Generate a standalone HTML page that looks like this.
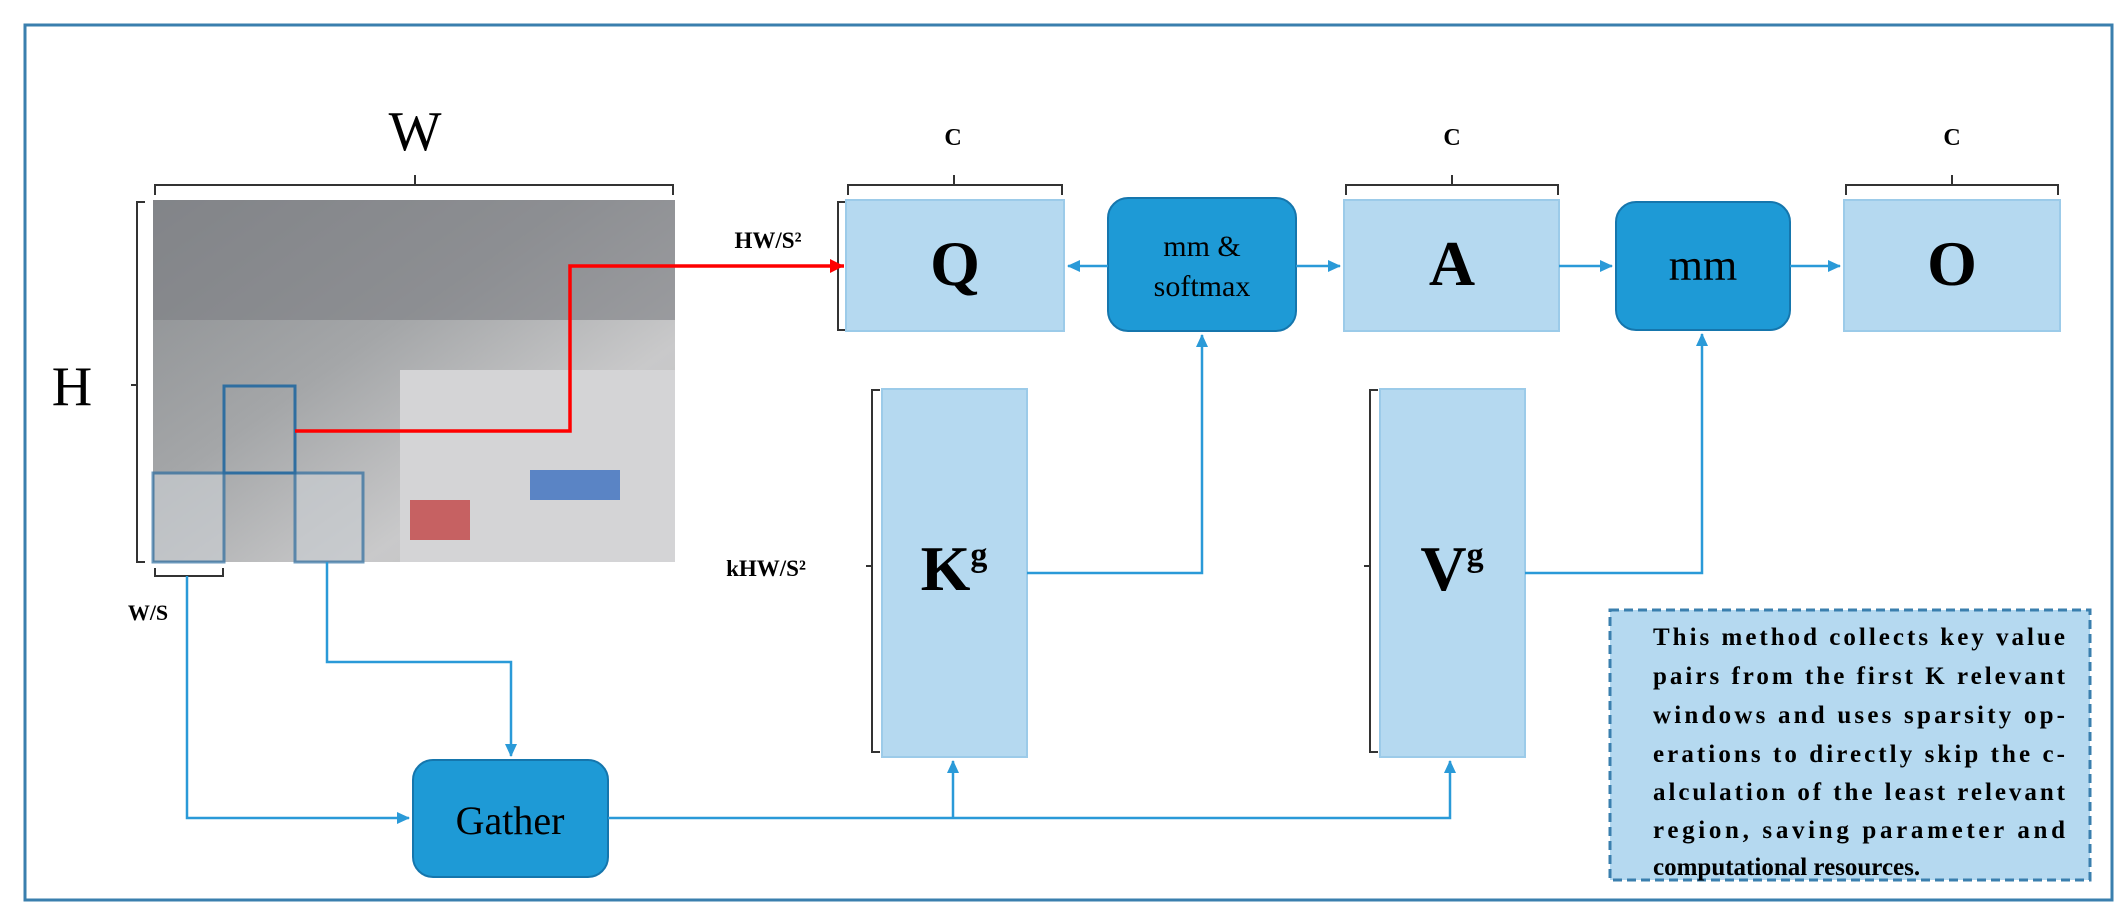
<!DOCTYPE html>
<html><head><meta charset="utf-8"><style>
body{margin:0;background:#fff;}
svg text{font-family:"Liberation Serif",serif;}
</style></head><body>
<svg width="2128" height="917" viewBox="0 0 2128 917" xmlns="http://www.w3.org/2000/svg">
<defs>
<marker id="ab" markerWidth="14" markerHeight="14" refX="12" refY="7" orient="auto" markerUnits="userSpaceOnUse"><path d="M0,1 L13,7 L0,13 z" fill="#2a9ad8"/></marker>
<marker id="ar" markerWidth="16" markerHeight="16" refX="14" refY="7" orient="auto" markerUnits="userSpaceOnUse"><path d="M0,0 L14,7 L0,14 z" fill="#f00"/></marker>
<linearGradient id="ph" x1="0" y1="0" x2="1" y2="1">
<stop offset="0" stop-color="#8a8d90"/><stop offset="0.4" stop-color="#a4a6a8"/><stop offset="0.7" stop-color="#c9c9ca"/><stop offset="1" stop-color="#b8b9bb"/></linearGradient>
</defs>
<rect x="25" y="25" width="2087" height="875" fill="none" stroke="#3a7fae" stroke-width="3"/>
<!-- photo -->
<rect x="153" y="200" width="522" height="362" fill="url(#ph)"/>
<rect x="153" y="200" width="522" height="120" fill="#7d7f84" opacity="0.6"/>
<rect x="400" y="370" width="275" height="192" fill="#d4d4d6"/>
<rect x="410" y="500" width="60" height="40" fill="#c03030" opacity="0.7"/>
<rect x="530" y="470" width="90" height="30" fill="#3b6fc0" opacity="0.8"/>
<rect x="224" y="386" width="71" height="87" fill="none" stroke="#2f6ea0" stroke-width="3"/>
<rect x="153" y="473" width="71" height="89" fill="#c8ccd0" opacity="0.7" stroke="#2f6ea0" stroke-width="3"/>
<rect x="295" y="473" width="68" height="89" fill="#c8ccd0" opacity="0.7" stroke="#2f6ea0" stroke-width="3"/>
<!-- braces -->
<g fill="none" stroke="#333" stroke-width="2">
<path d="M155,195 v-10 h260 v-10 v10 h258 v10"/>
<path d="M145,202 h-8 v183 h-6 h6 v177 h8"/>
<path d="M155,568 v8 h68 v-8"/>
<path d="M848,195 v-10 h106 v-10 v10 h108 v10"/>
<path d="M1346,195 v-10 h106 v-10 v10 h106 v10"/>
<path d="M1846,195 v-10 h106 v-10 v10 h106 v10"/>
<path d="M846,202 h-8 v128 h8"/>
<path d="M880,390 h-8 v176 h-6 h6 v186 h8"/>
<path d="M1378,390 h-8 v176 h-6 h6 v186 h8"/>
</g>
<text x="415" y="150" font-size="56" text-anchor="middle">W</text>
<text x="72" y="405" font-size="56" text-anchor="middle">H</text>
<text x="148" y="620" font-size="22" font-weight="bold" text-anchor="middle">W/S</text>
<text x="953" y="145" font-size="24" font-weight="bold" text-anchor="middle">C</text>
<text x="1452" y="145" font-size="24" font-weight="bold" text-anchor="middle">C</text>
<text x="1952" y="145" font-size="24" font-weight="bold" text-anchor="middle">C</text>
<text x="768" y="248" font-size="23" font-weight="bold" text-anchor="middle">HW/S²</text>
<text x="766" y="576" font-size="23" font-weight="bold" text-anchor="middle">kHW/S²</text>
<!-- boxes -->
<g fill="#b5d9f0" stroke="#9ccbe9" stroke-width="2">
<rect x="846" y="200" width="218" height="131"/>
<rect x="1344" y="200" width="215" height="131"/>
<rect x="1844" y="200" width="216" height="131"/>
<rect x="882" y="389" width="145" height="368"/>
<rect x="1380" y="389" width="145" height="368"/>
</g>
<g fill="#1e9ad6" stroke="#1576ad" stroke-width="2">
<rect x="1108" y="198" width="188" height="133" rx="20"/>
<rect x="1616" y="202" width="174" height="128" rx="20"/>
<rect x="413" y="760" width="195" height="117" rx="20"/>
</g>
<text x="955" y="285" font-size="64" font-weight="bold" text-anchor="middle">Q</text>
<text x="1452" y="285" font-size="64" font-weight="bold" text-anchor="middle">A</text>
<text x="1952" y="285" font-size="64" font-weight="bold" text-anchor="middle">O</text>
<text x="954" y="590" font-size="64" font-weight="bold" text-anchor="middle">K<tspan font-size="34" dy="-24">g</tspan></text>
<text x="1452" y="590" font-size="64" font-weight="bold" text-anchor="middle">V<tspan font-size="34" dy="-24">g</tspan></text>
<text x="1202" y="256" font-size="30" text-anchor="middle">mm &amp;</text>
<text x="1202" y="296" font-size="30" text-anchor="middle">softmax</text>
<text x="1703" y="280" font-size="44" text-anchor="middle">mm</text>
<text x="510" y="834" font-size="40" text-anchor="middle">Gather</text>
<!-- connectors -->
<g fill="none" stroke="#2a9ad8" stroke-width="2.5">
<path d="M1108,266 H1068" marker-end="url(#ab)"/>
<path d="M1296,266 H1340" marker-end="url(#ab)"/>
<path d="M1559,266 H1612" marker-end="url(#ab)"/>
<path d="M1790,266 H1840" marker-end="url(#ab)"/>
<path d="M1027,573 H1202 V335" marker-end="url(#ab)"/>
<path d="M1525,573 H1702 V334" marker-end="url(#ab)"/>
<path d="M608,818 H1450 V761" marker-end="url(#ab)"/>
<path d="M953,818 V761" marker-end="url(#ab)"/>
<path d="M187,576 V818 H409" marker-end="url(#ab)"/>
<path d="M327,562 V662 H511 V756" marker-end="url(#ab)"/>
</g>
<path d="M295,431 H570 V266 H844" fill="none" stroke="#f00" stroke-width="3.5" marker-end="url(#ar)"/>
<!-- note -->
<rect x="1610" y="610" width="480" height="270" fill="#b5d9f0" stroke="#3a7fae" stroke-width="3" stroke-dasharray="9,5"/>
<g font-size="25" font-weight="bold" text-anchor="start">
<text x="1653" y="645" textLength="412" lengthAdjust="spacing">This method collects key value</text>
<text x="1653" y="684" textLength="412" lengthAdjust="spacing">pairs from the first K relevant</text>
<text x="1653" y="723" textLength="412" lengthAdjust="spacing">windows and uses sparsity op-</text>
<text x="1653" y="762" textLength="412" lengthAdjust="spacing">erations to directly skip the c-</text>
<text x="1653" y="800" textLength="412" lengthAdjust="spacing">alculation of the least relevant</text>
<text x="1653" y="838" textLength="412" lengthAdjust="spacing">region, saving parameter and</text>
<text x="1653" y="875">computational resources.</text>
</g>
</svg>
</body></html>
